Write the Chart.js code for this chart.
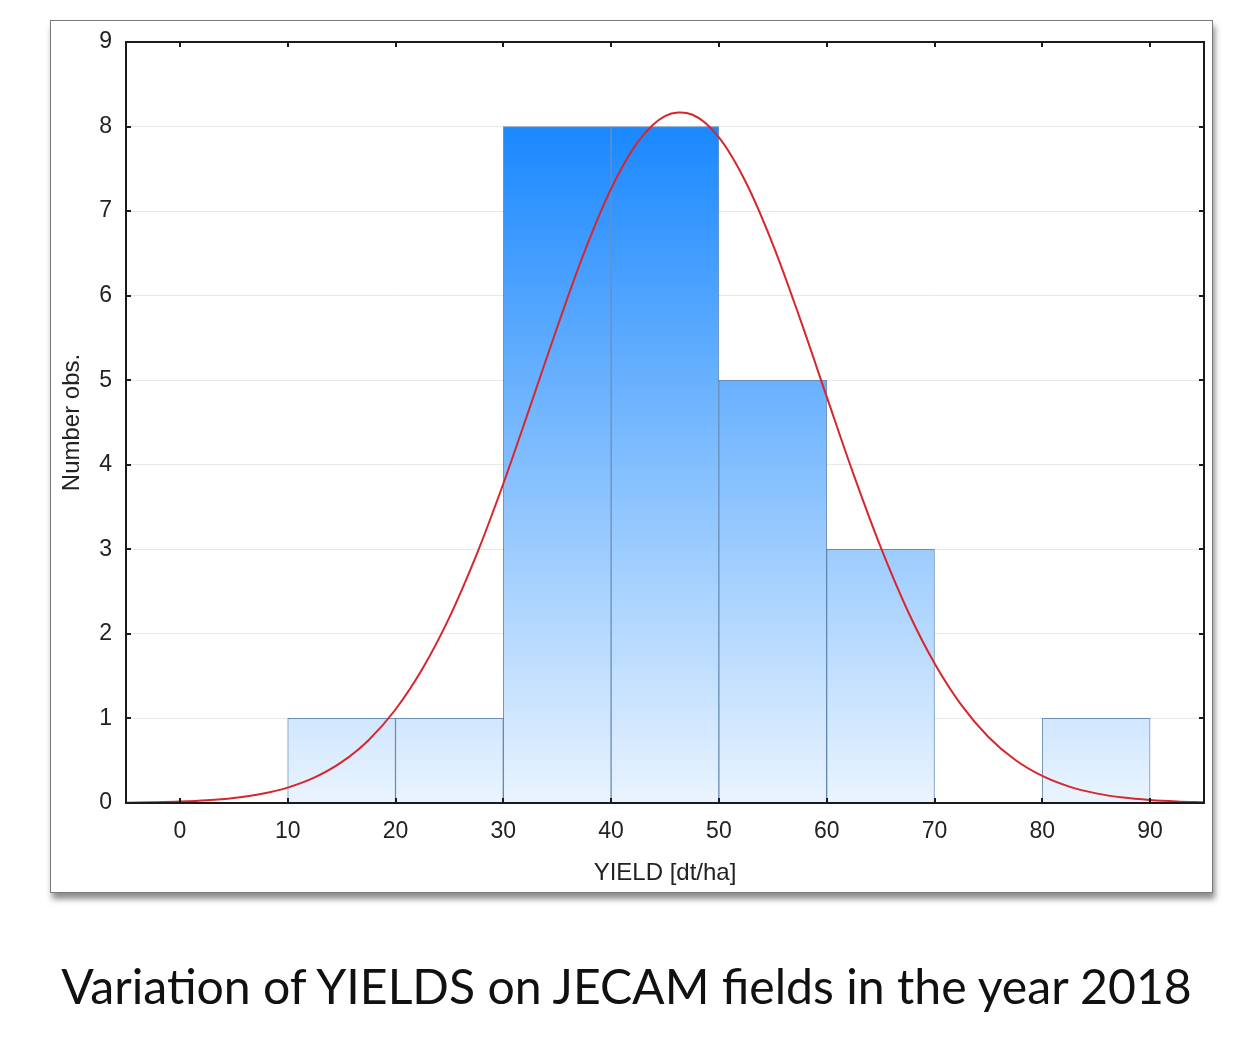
<!DOCTYPE html>
<html>
<head>
<meta charset="utf-8">
<title>YIELD histogram</title>
<script src="https://cdn.jsdelivr.net/npm/chart.js@4.4.1/dist/chart.umd.min.js"></script>
<style>
  html, body { margin: 0; padding: 0; background: #fff; }
  body { width: 1235px; height: 1062px; position: relative; overflow: hidden; }
  #frame {
    position: absolute; left: 50px; top: 20px;
    width: 1161px; height: 871px;
    border: 1px solid #7a7a7a; background: #fff;
    box-shadow: 2px 6px 6px rgba(0,0,0,0.45);
  }
  #frame canvas { display: block; }
  #caption {
    position: absolute; left: 9px; width: 1235px; top: 961px;
    text-align: center; white-space: nowrap; line-height: 1;
    font-family: Lato, "Open Sans", sans-serif; font-size: 46px; color: #111;
  }
</style>
</head>
<body>
<div id="frame"><canvas id="chart" width="1161" height="871"></canvas></div>
<div id="caption">Variation of YIELDS on JECAM fields in the year 2018</div>
<script>
// Histogram bins (class centres, width 10 dt/ha) and their counts
const binCenters = [15, 25, 35, 45, 55, 65, 75, 85];
const binCounts  = [1, 1, 8, 8, 5, 3, 0, 1];

// Fitted normal curve, sampled every 2.5 dt/ha along the YIELD axis
const curveX = [-5, -2.5, 0, 2.5, 5, 7.5, 10, 12.5, 15, 17.5, 20, 22.5, 25, 27.5, 30, 32.5, 35, 37.5, 40, 42.5, 45, 47.5, 50, 52.5, 55, 57.5, 60, 62.5, 65, 67.5, 70, 72.5, 75, 77.5, 80, 82.5, 85, 87.5, 90, 92.5, 95];
const curveY = [0.004, 0.009, 0.017, 0.032, 0.060, 0.106, 0.182, 0.302, 0.483, 0.743, 1.106, 1.587, 2.195, 2.931, 3.776, 4.693, 5.626, 6.509, 7.264, 7.821, 8.124, 8.142, 7.872, 7.342, 6.608, 5.737, 4.806, 3.883, 3.028, 2.277, 1.653, 1.157, 0.781, 0.509, 0.320, 0.194, 0.114, 0.064, 0.035, 0.018, 0.009];

// Axis ticks
const xTickValues = [0, 10, 20, 30, 40, 50, 60, 70, 80, 90];
const yTickValues = [0, 1, 2, 3, 4, 5, 6, 7, 8, 9];

const barPoints = binCenters.map((x, i) => ({ x: x, y: binCounts[i] }));
const curvePoints = curveX.map((x, i) => ({ x: x, y: curveY[i] }));

// Frame around the plot with inward tick marks on all four sides
const framePlugin = {
  id: 'frameTicks',
  afterDatasetsDraw(chart) {
    const { ctx, chartArea: a, scales } = chart;
    ctx.save();
    ctx.strokeStyle = '#1b1b1b';
    ctx.lineWidth = 2;
    ctx.strokeRect(a.left, a.top, a.right - a.left, a.bottom - a.top);
    const len = 5;
    ctx.beginPath();
    xTickValues.forEach(v => {
      const px = Math.round(scales.x.getPixelForValue(v));
      ctx.moveTo(px, a.bottom); ctx.lineTo(px, a.bottom - len);
      ctx.moveTo(px, a.top); ctx.lineTo(px, a.top + len);
    });
    yTickValues.forEach(v => {
      const py = Math.round(scales.y.getPixelForValue(v));
      ctx.moveTo(a.left, py); ctx.lineTo(a.left + len, py);
      ctx.moveTo(a.right, py); ctx.lineTo(a.right - len, py);
    });
    ctx.stroke();
    ctx.restore();
  }
};

function barGradient(context) {
  const chart = context.chart;
  if (!chart.chartArea) return '#8ec4fb';
  const y = chart.scales.y;
  const g = chart.ctx.createLinearGradient(0, y.getPixelForValue(0), 0, y.getPixelForValue(8));
  g.addColorStop(0, '#eaf4fe');
  g.addColorStop(1, '#1a88ff');
  return g;
}

const textColor = '#222';
const labelFont = { family: '"Liberation Sans", Arial, sans-serif', size: 23 };
const titleFont = { family: '"Liberation Sans", Arial, sans-serif', size: 24 };

new Chart(document.getElementById('chart'), {
  type: 'bar',
  data: {
    datasets: [
      {
        type: 'line',
        label: 'Normal',
        data: curvePoints,
        borderColor: '#d7262e',
        borderWidth: 2,
        pointRadius: 0,
        tension: 0.35,
        fill: false,
        order: 0
      },
      {
        type: 'bar',
        label: 'Number obs.',
        data: barPoints,
        backgroundColor: barGradient,
        borderColor: 'rgba(40, 90, 150, 0.65)',
        borderWidth: 1,
        barPercentage: 1,
        categoryPercentage: 1,
        order: 1
      }
    ]
  },
  options: {
    responsive: false,
    animation: false,
    events: [],
    layout: { padding: { left: 0, right: 8, top: 21, bottom: 0 } },
    plugins: { legend: { display: false }, tooltip: { enabled: false } },
    scales: {
      x: {
        type: 'linear',
        min: -5, max: 95,
        offset: false,
        grid: { display: false, drawTicks: false },
        border: { display: false },
        afterBuildTicks: s => { s.ticks = xTickValues.map(v => ({ value: v })); },
        afterFit: s => { s.height = 89; s.paddingLeft = 0; s.paddingRight = 0; },
        ticks: { color: textColor, font: labelFont, padding: 15, maxRotation: 0, autoSkip: false },
        title: { display: true, text: 'YIELD [dt/ha]', color: textColor, font: titleFont, padding: { top: 0, bottom: 4 } }
      },
      y: {
        min: 0, max: 9,
        grid: { color: '#e8e8e8', lineWidth: 1, drawTicks: false },
        border: { display: false },
        afterBuildTicks: s => { s.ticks = yTickValues.map(v => ({ value: v })); },
        afterFit: s => { s.width = 75; s.paddingTop = 0; s.paddingBottom = 0; },
        ticks: { color: textColor, font: labelFont, padding: 14 },
        title: { display: true, text: 'Number obs.', color: textColor, font: titleFont, padding: { top: 7, bottom: 0 } }
      }
    }
  },
  plugins: [framePlugin]
});

// Fit the caption to its line width
(function () {
  const cap = document.getElementById('caption');
  const c = document.createElement('canvas').getContext('2d');
  c.font = '46px Lato';
  const w = c.measureText(cap.textContent).width;
  cap.style.fontSize = (46 * 1137 / w).toFixed(2) + 'px';
})();
</script>
</body>
</html>
